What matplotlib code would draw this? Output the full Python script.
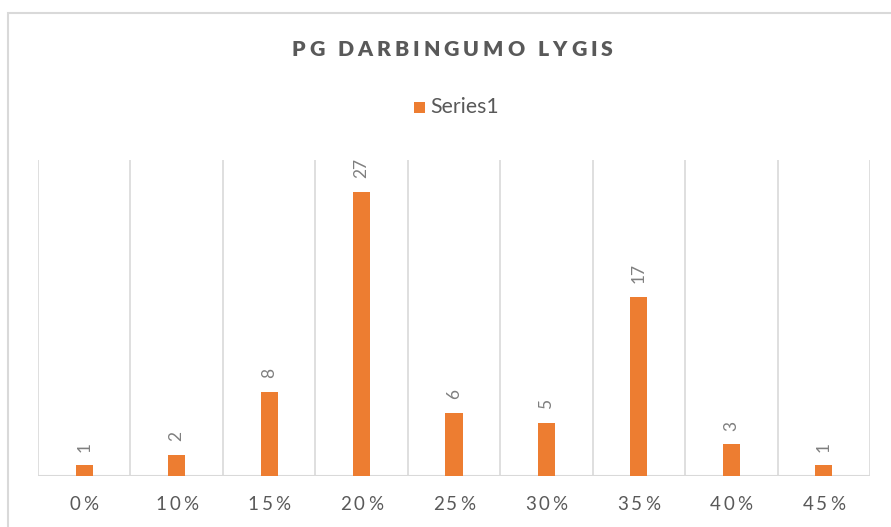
import matplotlib
matplotlib.use("Agg")
import matplotlib.pyplot as plt
from matplotlib.patches import Rectangle
from matplotlib.transforms import IdentityTransform

plt.rcParams["font.family"] = ["Lato", "DejaVu Sans"]

# data
categories = ["0%", "10%", "15%", "20%", "25%", "30%", "35%", "40%", "45%"]
counts = [1, 2, 8, 27, 6, 5, 17, 3, 1]
title = "PG DARBINGUMO LYGIS"
series_name = "Series1"

bar_color = "#ED7D31"
grid_color = "#D9D9D9"
text_color = "#595959"
label_color = "#7F7F7F"

W, H = 891, 527
fig = plt.figure(figsize=(W / 100, H / 100), dpi=100)
fig.patch.set_facecolor("white")

# chart border (partly cut off on the right / bottom in the original)
fig.add_artist(Rectangle((8, -20), W + 20, H + 20 - 13, transform=IdentityTransform(),
                         fill=False, edgecolor=grid_color, linewidth=1.5))

ax = fig.add_axes([38 / W, 51 / H, (870 - 38) / W, (476 - 160) / H])
x = range(len(categories))
bars = ax.bar(x, counts, width=0.185, color=bar_color, zorder=3)
ax.set_xlim(-0.5, len(categories) - 0.5)
ax.set_ylim(0, 30)

# vertical gridlines between categories
for b in range(len(categories) + 1):
    ax.axvline(b - 0.5, color=grid_color, linewidth=1.2, zorder=1)
ax.axhline(0, color=grid_color, linewidth=1.5, zorder=2)

for s in ax.spines.values():
    s.set_visible(False)
ax.set_xticks([])
ax.set_yticks([])

# rotated data labels
for rect, v in zip(bars, counts):
    ax.annotate(str(v), (rect.get_x() + rect.get_width() / 2, v),
                xytext=(0, 10), textcoords="offset points", rotation=90,
                ha="center", va="bottom", fontsize=12.5, color=label_color)

renderer = fig.canvas.get_renderer()


def text_width(s, **kw):
    t = fig.text(0, 0, s, transform=IdentityTransform(), **kw)
    w = t.get_window_extent(renderer).width
    t.remove()
    return w


def spaced_text(xc, yc, s, spacing, **kw):
    # draw text one char at a time with extra letter spacing (like Excel)
    space_w = text_width("a a", **kw) - text_width("aa", **kw)
    widths = [space_w if ch == " " else text_width(ch, **kw) for ch in s]
    total = sum(widths) + spacing * (len(s) - 1)
    pos = xc - total / 2
    for ch, w in zip(s, widths):
        if ch != " ":
            fig.text(pos, yc, ch, transform=IdentityTransform(),
                     ha="left", va="center", **kw)
        pos += w + spacing


# title
spaced_text(452, H - 50, title, 4.0, fontsize=15.3, fontweight="heavy", color=text_color)

# category labels
for i, c in enumerate(categories):
    xc = ax.transData.transform((i, 0))[0]
    spaced_text(xc, H - 505, c, 2.8, fontsize=13.5, color=text_color)

# legend
fig.add_artist(Rectangle((414, H - 113), 11, 11, transform=IdentityTransform(),
                         facecolor=bar_color, edgecolor="none"))
fig.text(430, H - 107, series_name, transform=IdentityTransform(),
         ha="left", va="center", fontsize=15.3, color=text_color)

fig.savefig("out.png", dpi=100)
